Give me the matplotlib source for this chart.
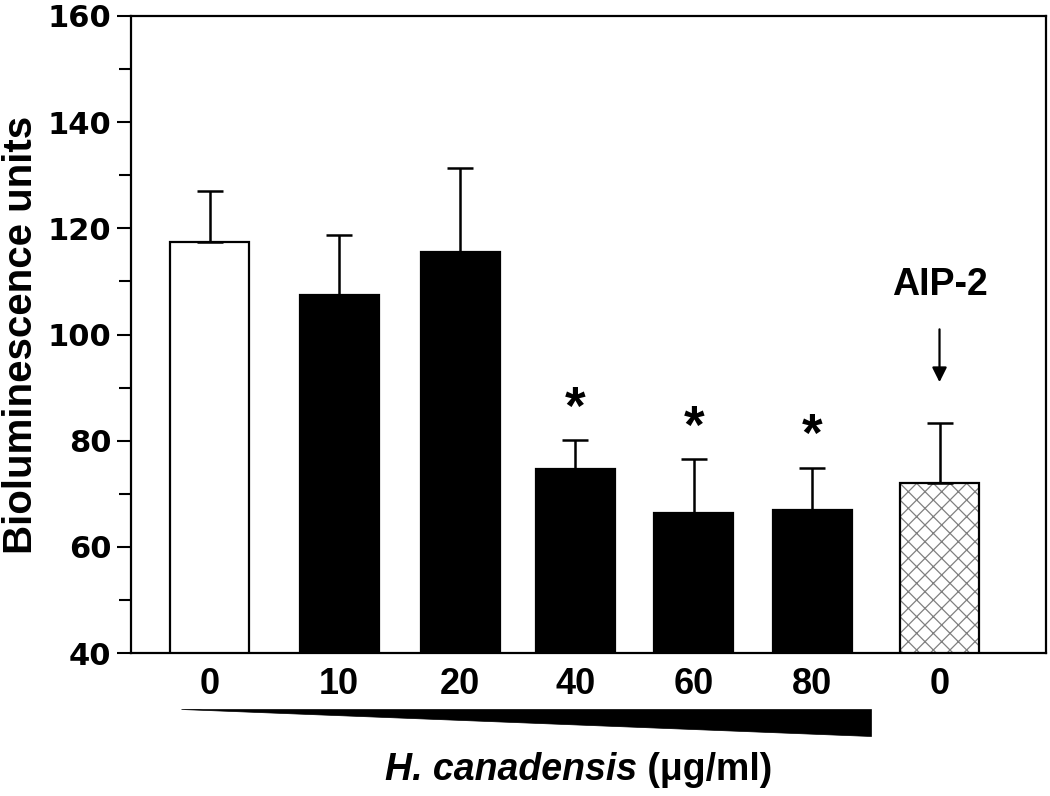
import numpy as np
import matplotlib
matplotlib.use("Agg")
import matplotlib.pyplot as plt
from matplotlib.patches import Polygon
import matplotlib.transforms as mtransforms

plt.rcParams['font.family'] = ['Liberation Sans', 'DejaVu Sans']
plt.rcParams['font.weight'] = 'bold'
plt.rcParams['hatch.linewidth'] = 0.9

# data
labels = ['0', '10', '20', '40', '60', '80', '0']
xpos = [0, 1.07, 2.07, 3.02, 4.0, 4.98, 6.03]
means = [117.5, 107.5, 115.5, 74.7, 66.4, 66.9, 72.0]
errs = [9.6, 11.2, 15.8, 5.4, 10.1, 8.0, 11.3]
signif = [False, False, False, True, True, True, False]

fig = plt.figure(figsize=(10.5, 7.96), dpi=100)
ax = fig.add_axes([0.1248, 0.1796, 0.8714, 0.8003])

w = 0.65
face = ['white', 'black', 'black', 'black', 'black', 'black', 'none']
ax.bar(xpos, means, width=w, bottom=0, color=face, edgecolor='black',
       linewidth=1.6, zorder=2)
# hatched AIP-2 bar: hatch in grey, outline in black
ax.bar(xpos[6], means[6], width=w, color='white', edgecolor='#808080',
       hatch='xx', linewidth=0, zorder=1.5)

ax.errorbar(xpos, means, yerr=[np.zeros(len(errs)), errs], fmt='none',
            ecolor='black', elinewidth=1.8, capsize=9.4, capthick=1.8, zorder=3)

for x, m, e, s in zip(xpos, means, errs, signif):
    if s:
        ax.annotate('*', xy=(x, m + e), xytext=(0, 4), textcoords='offset points',
                    ha='center', va='bottom', fontsize=38, fontweight='bold')

ax.annotate('', xy=(xpos[6], 90.5), xytext=(xpos[6], 101.5),
            arrowprops=dict(arrowstyle='-|>', color='black', lw=1.6,
                            mutation_scale=22))
ax.text(xpos[6], 106, 'AIP-2', ha='center', va='bottom', fontsize=27,
        fontweight='bold')

ax.set_ylim(40, 160)
ax.set_xlim(-0.65, 6.91)
ax.set_yticks(np.arange(40, 161, 20))
ax.set_yticks(np.arange(50, 160, 20), minor=True)
ax.set_xticks(xpos)
ax.set_xticklabels(labels)
ax.tick_params(axis='y', which='major', direction='out', length=10, width=1.5,
               pad=4)
ax.tick_params(axis='y', which='minor', direction='out', length=9, width=1.5)
for lab in ax.get_yticklabels():
    lab.set_family('DejaVu Sans')
    lab.set_fontsize(22)
    lab.set_fontweight('bold')
ax.tick_params(axis='x', length=0, labelsize=26, pad=10)
for sp in ax.spines.values():
    sp.set_linewidth(1.6)
ax.set_ylabel('Bioluminescence units', fontsize=29, fontweight='bold', labelpad=6)

# concentration wedge under the tick labels
trans = mtransforms.blended_transform_factory(ax.transData, ax.transAxes)
wedge = Polygon([[-0.24, -0.088], [5.46, -0.088], [5.46, -0.130]], closed=True,
                facecolor='black', edgecolor='black', linewidth=0.5,
                transform=trans, clip_on=False)
ax.add_patch(wedge)

t1 = fig.text(385 / 1050, 0.033, 'H. canadensis', fontsize=27, fontweight='bold',
              style='italic', ha='left', va='center')
ax.annotate(' (\u03bcg/ml)', xy=(1, 0.5), xycoords=t1, ha='left', va='center',
            fontsize=27, fontweight='bold')

fig.savefig('out.png', dpi=100)
